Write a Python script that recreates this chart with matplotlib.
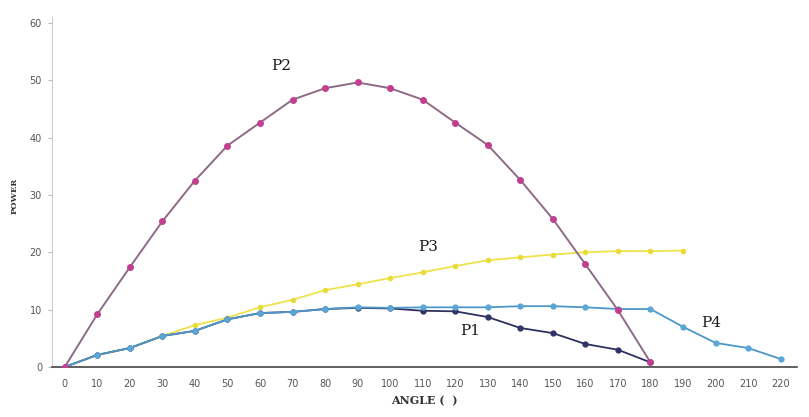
import matplotlib
matplotlib.use("Agg")
import matplotlib.pyplot as plt

# angle steps (degrees) and power readings
angle = [0, 10, 20, 30, 40, 50, 60, 70, 80, 90, 100, 110, 120, 130, 140, 150, 160, 170, 180, 190, 200, 210, 220]

p1 = [0, 2.1, 3.3, 5.4, 6.3, 8.3, 9.4, 9.6, 10.1, 10.3, 10.2, 9.8, 9.7, 8.7, 6.8, 5.9, 4.0, 3.0, 0.8]
p2 = [0, 9.2, 17.4, 25.4, 32.5, 38.6, 42.6, 46.6, 48.6, 49.6, 48.6, 46.6, 42.6, 38.7, 32.6, 25.8, 17.9, 9.9, 0.8]
p3 = [0, 2.1, 3.3, 5.4, 7.3, 8.6, 10.4, 11.7, 13.4, 14.4, 15.5, 16.5, 17.6, 18.6, 19.1, 19.6, 20.0, 20.2, 20.2, 20.3]
p4 = [0, 2.1, 3.3, 5.4, 6.3, 8.3, 9.4, 9.6, 10.1, 10.4, 10.3, 10.4, 10.4, 10.4, 10.6, 10.6, 10.4, 10.1, 10.1, 7.0, 4.2, 3.3, 1.4]

series_names = ["P1", "P2", "P3", "P4"]
label_pos = {"P1": (121.5, 6.3), "P2": (63.5, 52.4), "P3": (108.5, 21.0), "P4": (195.5, 7.7)}

y_ticks = [0, 10, 20, 30, 40, 50, 60]


def plot_power(out_path="out.png"):
    """
    Draws the four power-vs-angle curves in the style of the scanned figure.
    """
    fig = plt.figure(figsize=(8.09, 4.17), dpi=100)
    ax = fig.add_axes([0.064, 0.12, 0.921, 0.839])

    # yellow under the blues, magenta on top
    ax.plot(angle[:len(p3)], p3, color="#eee34a", lw=1.3, marker="o", ms=3,
            mfc="#e8dc3a", mec="#e8dc3a", zorder=2)
    ax.plot(angle[:len(p1)], p1, color="#2e3160", lw=1.3, marker="o", ms=3.5,
            mfc="#2e3466", mec="#2e3466", zorder=3)
    ax.plot(angle[:len(p4)], p4, color="#4e97c9", lw=1.3, marker="o", ms=3.5,
            mfc="#5aa6d6", mec="#5aa6d6", zorder=4)
    ax.plot(angle[:len(p2)], p2, color="#8f6a87", lw=1.4, marker="o", ms=4,
            mfc="#c0408f", mec="#c0408f", zorder=5)

    for name in series_names:
        x, y = label_pos[name]
        ax.text(x, y, name, fontsize=11, family="DejaVu Serif", color="#1a1a1a",
                ha="left", va="center")

    ax.set_xlim(-4, 225)
    ax.set_ylim(0, 61)
    ax.set_xticks(angle)
    ax.set_yticks(y_ticks)
    ax.tick_params(axis="x", length=0, pad=9, labelsize=7, labelcolor="#555555")
    ax.tick_params(axis="y", length=3, color="#bbbbbb", pad=4, labelsize=7, labelcolor="#555555")

    for side in ["top", "right"]:
        ax.spines[side].set_visible(False)
    ax.spines["left"].set_color("#cccccc")
    ax.spines["bottom"].set_color("#444444")
    ax.spines["bottom"].set_linewidth(1.2)

    ax.set_xlabel("ANGLE (  )", fontsize=8, family="DejaVu Serif", fontweight="bold",
                  color="#333333", labelpad=4)
    ax.set_ylabel("POWER", fontsize=6, family="DejaVu Serif", fontweight="bold",
                  color="#333333")
    ax.yaxis.set_label_coords(-0.045, 0.49)

    fig.savefig(out_path, dpi=100)


plot_power()
